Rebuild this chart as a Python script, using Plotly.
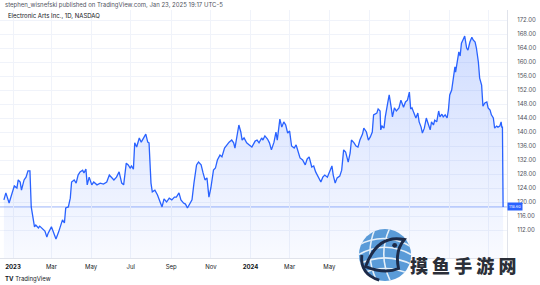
import plotly.graph_objects as go
import base64

dates = [
"2022-12-18","2022-12-21","2022-12-26","2022-12-30","2023-01-03","2023-01-07","2023-01-09","2023-01-12","2023-01-14","2023-01-18",
"2023-01-21","2023-01-24","2023-01-27","2023-01-29","2023-01-31","2023-02-03","2023-02-05","2023-02-09","2023-02-11","2023-02-16",
"2023-02-19","2023-02-22","2023-02-24","2023-03-01","2023-03-04","2023-03-08","2023-03-12","2023-03-15","2023-03-18","2023-03-21",
"2023-03-23","2023-03-27","2023-03-30","2023-04-01","2023-04-05","2023-04-08","2023-04-11","2023-04-14","2023-04-18","2023-04-20",
"2023-04-23","2023-04-25","2023-04-28","2023-05-02","2023-05-05","2023-05-10","2023-05-15","2023-05-20","2023-05-25","2023-05-29",
"2023-06-02","2023-06-05","2023-06-09","2023-06-13","2023-06-17","2023-06-20","2023-06-24","2023-06-27","2023-06-30","2023-07-02",
"2023-07-05","2023-07-07","2023-07-10","2023-07-14","2023-07-17","2023-07-20","2023-07-24","2023-07-27","2023-07-29","2023-08-01",
"2023-08-03","2023-08-07","2023-08-11","2023-08-15","2023-08-18","2023-08-21","2023-08-25","2023-08-29","2023-09-02","2023-09-06",
"2023-09-09","2023-09-13","2023-09-16","2023-09-20","2023-09-23","2023-09-26","2023-09-30","2023-10-03","2023-10-06","2023-10-10",
"2023-10-13","2023-10-17","2023-10-20","2023-10-23","2023-10-26","2023-10-29","2023-11-01","2023-11-05","2023-11-08","2023-11-11",
"2023-11-15","2023-11-18","2023-11-22","2023-11-25","2023-11-29","2023-12-03","2023-12-06","2023-12-08","2023-12-11","2023-12-14",
"2023-12-17","2023-12-19","2023-12-22","2023-12-26","2023-12-30","2024-01-03","2024-01-08","2024-01-11","2024-01-14","2024-01-18",
"2024-01-20","2024-01-23","2024-01-27","2024-01-30","2024-02-02","2024-02-06","2024-02-09","2024-02-11","2024-02-15","2024-02-18",
"2024-02-21","2024-02-24","2024-02-27","2024-03-01","2024-03-04","2024-03-08","2024-03-11","2024-03-14","2024-03-17","2024-03-21",
"2024-03-25","2024-03-28","2024-03-31","2024-04-04","2024-04-07","2024-04-10","2024-04-14","2024-04-18","2024-04-21","2024-04-24",
"2024-04-28","2024-05-01","2024-05-05","2024-05-07","2024-05-10","2024-05-13","2024-05-17","2024-05-20","2024-05-23","2024-05-26",
"2024-05-30","2024-06-02","2024-06-04","2024-06-08","2024-06-11","2024-06-14","2024-06-17","2024-06-21","2024-06-23","2024-06-27",
"2024-06-30","2024-07-03","2024-07-06","2024-07-08","2024-07-13","2024-07-15","2024-07-18","2024-07-19","2024-07-21","2024-07-24",
"2024-07-26","2024-07-30","2024-08-01","2024-08-04","2024-08-06","2024-08-09","2024-08-12","2024-08-16","2024-08-19","2024-08-23",
"2024-08-26","2024-08-29","2024-09-01","2024-09-03","2024-09-05","2024-09-08","2024-09-11","2024-09-14","2024-09-16","2024-09-19",
"2024-09-21","2024-09-24","2024-09-27","2024-09-30","2024-10-03","2024-10-05","2024-10-08","2024-10-10","2024-10-13","2024-10-16",
"2024-10-18","2024-10-21","2024-10-23","2024-10-26","2024-10-29","2024-10-31","2024-11-02","2024-11-05","2024-11-07","2024-11-10",
"2024-11-11","2024-11-14","2024-11-16","2024-11-18","2024-11-20","2024-11-23","2024-11-25","2024-11-28","2024-11-30","2024-12-03",
"2024-12-06","2024-12-08","2024-12-11","2024-12-13","2024-12-16","2024-12-18","2024-12-21","2024-12-23","2024-12-26","2024-12-29",
"2024-12-31","2025-01-03","2025-01-05","2025-01-08","2025-01-10","2025-01-13","2025-01-15","2025-01-18","2025-01-20","2025-01-21",
"2025-01-22","2025-01-23"]

prices = [
120.6,122.6,119.7,122.0,124.6,124.0,126.3,125.7,123.4,126.3,
127.1,128.9,128.9,118.6,116.3,112.9,113.4,112.6,113.1,112.3,
111.7,110.0,111.1,112.9,111.4,109.4,111.4,112.9,114.9,114.0,
118.3,118.6,121.1,125.7,126.3,125.4,127.7,128.6,129.1,128.3,
129.4,124.9,127.1,124.9,125.7,124.9,125.4,125.1,125.7,127.7,
126.9,126.3,127.1,128.6,125.4,124.9,131.1,130.6,129.7,130.3,
129.4,136.9,135.7,138.3,137.1,138.3,139.4,137.1,136.9,125.4,
122.9,123.4,122.0,120.0,118.6,120.9,120.0,121.1,120.6,121.4,
121.4,122.6,120.6,119.7,119.4,118.3,119.7,120.6,125.4,130.6,
131.4,130.6,128.3,126.3,126.9,121.4,124.0,129.1,129.7,132.0,
133.4,132.9,135.4,136.3,137.1,137.7,136.9,135.4,138.6,142.0,
140.0,137.7,138.3,136.9,136.3,135.7,137.4,137.7,136.9,138.3,
137.7,138.9,138.0,136.9,134.9,137.1,140.0,137.7,143.7,141.4,
142.9,142.0,139.7,140.3,136.0,135.4,136.3,134.3,132.6,132.0,
130.6,132.3,132.9,130.0,130.3,128.6,127.1,125.7,127.1,127.7,
127.1,128.3,130.3,127.7,125.4,126.9,127.4,129.1,134.9,134.3,
131.4,134.0,137.7,136.9,136.0,135.7,137.7,139.4,141.1,140.0,
137.7,138.6,140.0,144.9,145.4,146.6,146.0,140.6,141.7,141.1,
144.3,148.6,150.6,147.1,144.3,146.9,146.0,146.9,149.1,147.1,
148.6,149.1,151.4,146.6,146.9,145.4,144.0,145.4,142.9,141.4,
139.7,141.1,144.0,142.3,140.6,142.9,142.0,143.4,142.9,146.0,
144.3,145.1,144.3,144.9,144.0,146.3,150.6,152.0,154.9,158.6,
157.1,161.4,162.9,161.7,165.4,166.6,167.4,164.0,163.4,165.7,
167.1,166.3,165.7,164.0,160.0,155.4,153.4,147.4,148.3,148.6,
146.9,146.3,144.9,144.0,141.1,141.7,141.4,141.7,142.9,141.4,
141.4,118.6]

last_price = 118.6
x_range = ["2022-12-12", "2025-01-29"]
y_range = [104, 174.86]

# labels from Jul 2024 on are hidden under the watermark in the reference
x_tickvals = ["2023-01-01","2023-03-01","2023-05-01","2023-07-01","2023-09-01","2023-11-01",
              "2024-01-01","2024-03-01","2024-05-01","2024-07-01","2024-09-01","2024-11-01","2025-01-01"]
x_ticktext = ["<b>2023</b>","Mar","May","Jul","Sep","Nov","<b>2024</b>","Mar","May","","","",""]
y_tickvals = [112,116,120,124,128,132,136,140,144,148,152,156,160,164,168,172]
y_ticktext = ["112.00","116.00","120.00","124.00","128.00","132.00","136.00","140.00","144.00",
              "148.00","152.00","156.00","160.00","164.00","168.00","172.00"]

header = "stephen_wisnefski published on TradingView.com, Jan 23, 2025 19:17 UTC-5"
symbol = "Electronic Arts Inc., 1D, NASDAQ"
watermark = "摸 鱼 手 游 网"

FONT = "Inter, Roboto, sans-serif"
BLUE = "#2962ff"

fig = go.Figure()
fig.add_trace(go.Scatter(
    x=dates, y=prices, mode="lines",
    line=dict(color=BLUE, width=1.3),
    fill="tozeroy",
    fillgradient=dict(type="vertical", start=104, stop=168,
                      colorscale=[[0, "rgba(41,98,255,0.03)"], [1, "rgba(41,98,255,0.22)"]]),
    hoverinfo="skip", showlegend=False,
))

W, H = 540, 285
L, R, T, B = 0, 33, 10, 27
pw, ph = W - L - R, H - T - B

def px(x):
    return (x - L) / pw

def py(y):
    return (H - B - y) / ph

# logo svg
svg = """<svg xmlns='http://www.w3.org/2000/svg' width='60' height='60' viewBox='0 0 60 60'>
<defs><clipPath id='c'><circle cx='30' cy='30' r='27'/></clipPath></defs>
<circle cx='30' cy='30' r='27' fill='#5a9bd8'/>
<g clip-path='url(#c)' stroke='#ffffff' stroke-width='1.6' fill='none' opacity='0.85'>
<path d='M2 20 Q30 5 58 22'/><path d='M2 30 Q30 14 58 30'/><path d='M2 40 Q30 26 58 40'/>
<path d='M4 50 Q30 38 56 50'/><path d='M20 2 Q8 30 22 58'/><path d='M35 2 Q22 30 36 58'/>
</g>
<path d='M10 42 Q22 8 50 14 Q40 26 44 44 Q30 50 10 42 Z' fill='none' stroke='#1c2a48' stroke-width='3'/>
<path d='M6 30 Q4 50 24 56' fill='none' stroke='#1c2a48' stroke-width='3'/>
<circle cx='40' cy='20' r='2.5' fill='#1c2a48'/>
</svg>"""
src = "data:image/svg+xml;base64," + base64.b64encode(svg.encode()).decode()

fig.add_layout_image(dict(source=src, xref="paper", yref="paper",
                          x=px(356), y=py(226), sizex=58 / pw, sizey=58 / ph,
                          xanchor="left", yanchor="top", sizing="stretch", layer="above"))

fig.update_layout(
    width=W, height=H,
    margin=dict(l=L, r=R, t=T, b=B, pad=0),
    paper_bgcolor="white", plot_bgcolor="white",
    font=dict(family=FONT, color="#131722"),
    xaxis=dict(type="date", range=x_range, tickvals=x_tickvals, ticktext=x_ticktext,
               showgrid=True, gridcolor="#f0f3fa", gridwidth=1,
               showline=True, linecolor="#e0e3eb", linewidth=1,
               ticks="", tickfont=dict(size=6, color="#131722"), ticklabelstandoff=3,
               zeroline=False, fixedrange=True),
    yaxis=dict(range=y_range, side="right", tickvals=y_tickvals, ticktext=y_ticktext,
               showgrid=True, gridcolor="#f0f3fa", gridwidth=1,
               showline=True, linecolor="#e0e3eb", linewidth=1,
               ticks="", tickfont=dict(size=6, color="#50535e"), ticklabelstandoff=8,
               zeroline=False, fixedrange=True),
    shapes=[
        dict(type="line", xref="paper", yref="y", x0=0, x1=1, y0=last_price, y1=last_price,
             line=dict(color="#c6d4fc", width=1.6), layer="below"),
    ],
    annotations=[
        dict(text=header, xref="paper", yref="paper", x=px(3), y=py(5), xanchor="left", yanchor="middle",
             showarrow=False, font=dict(size=6, color="#50535e")),
        dict(text=symbol, xref="paper", yref="paper", x=px(6), y=py(16), xanchor="left", yanchor="middle",
             showarrow=False, font=dict(size=6, color="#131722")),
        dict(text="<b>TV</b> TradingView", xref="paper", yref="paper", x=px(3), y=py(279),
             xanchor="left", yanchor="middle", showarrow=False, font=dict(size=6, color="#131722")),
        dict(text=f"{last_price:.2f}", xref="paper", yref="y", x=1, y=last_price, xanchor="left",
             yanchor="middle", showarrow=False, bgcolor=BLUE, borderpad=1,
             font=dict(size=4, color="white")),
        dict(text=watermark, xref="paper", yref="paper", x=px(408), y=py(265), xanchor="left",
             yanchor="middle", showarrow=False,
             font=dict(size=18, color="#2b2f38", family="Noto Sans CJK SC, sans-serif", weight=900)),
    ],
)

fig.write_html("out.html")
